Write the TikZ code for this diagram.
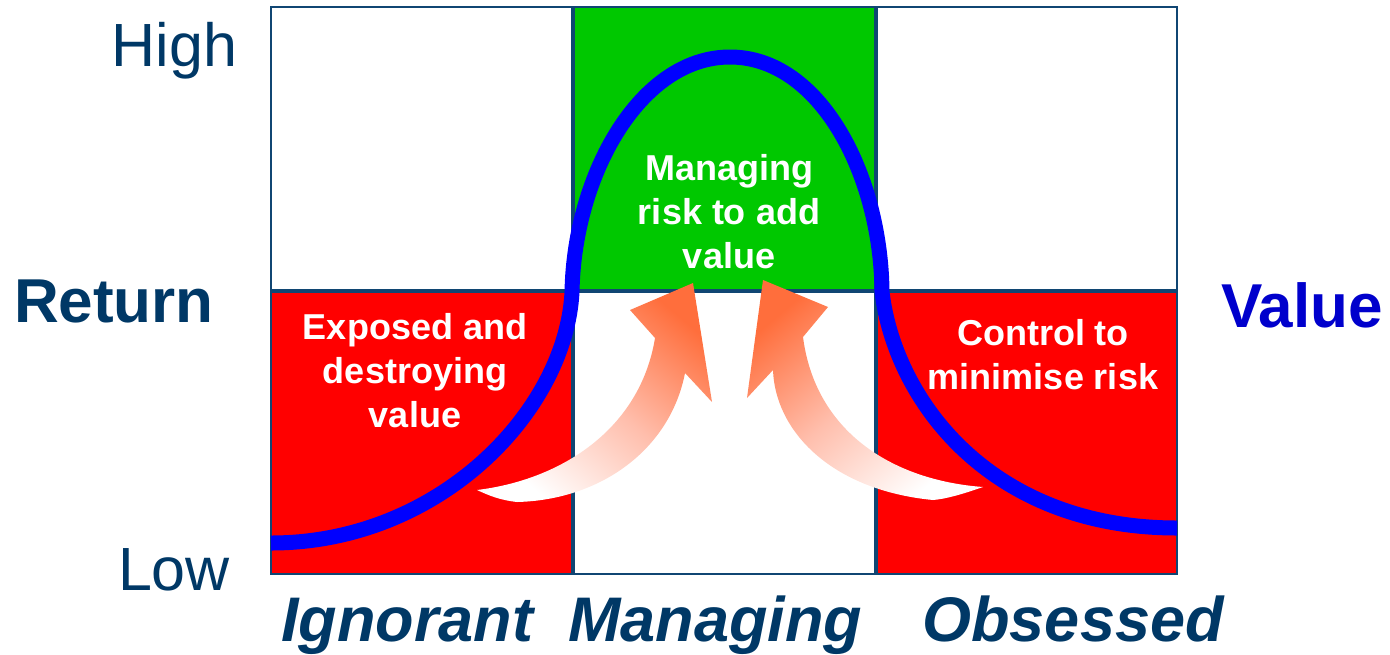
\documentclass[tikz,border=0pt]{standalone}
\usepackage{fontspec}
\setmainfont{Liberation Sans}
\definecolor{navyline}{RGB}{16,70,115}
\definecolor{navytext}{RGB}{0,56,102}
\definecolor{cellred}{RGB}{255,0,0}
\definecolor{cellgreen}{RGB}{0,200,0}
\definecolor{curveblue}{RGB}{0,0,255}
\definecolor{valueblue}{RGB}{0,0,204}
\definecolor{arroworange}{RGB}{255,110,60}
\definecolor{arrowmid}{RGB}{255,190,172}
\begin{document}
\begin{tikzpicture}[x=0.5pt,y=-0.5pt,
  gridline/.style={draw=navyline,line width=1.6pt},
  borderline/.style={draw=navyline,line width=1.3pt},
  axislabel/.style={text=navytext,font=\fontsize{30.5}{36}\selectfont,anchor=base,inner sep=0pt},
  axistitle/.style={font=\bfseries\fontsize{31}{36}\selectfont,anchor=base,inner sep=0pt},
  colabel/.style={text=navytext,font=\bfseries\itshape\fontsize{31.5}{36}\selectfont,anchor=base,inner sep=0pt},
  celltext/.style={text=white,font=\bfseries\fontsize{18}{22}\selectfont,align=center,inner sep=0pt},
  curve/.style={draw=curveblue,line width=7.5pt},
  bigarrow/.style={top color=arroworange,bottom color=white,middle color=arrowmid}
]
\useasboundingbox (0,0) rectangle (1390,654);
% cells
\fill[cellgreen] (573,7) rectangle (876,291);
\fill[cellred] (271,291) rectangle (573,574);
\fill[cellred] (876,291) rectangle (1177,574);
% grid
\draw[gridline] (573,7) -- (573,574);
\draw[gridline] (876,7) -- (876,574);
\draw[gridline] (271,291) -- (1177,291);
\draw[borderline] (271,7) rectangle (1177,574);
% cell texts
\node[celltext] (exposed) at (415,371) {Exposed and\\destroying\\value};
\node[celltext] (managing) at (729,212) {Managing\\risk to add\\value};
\node[celltext] (control) at (1043,355) {Control to\\minimise risk};
% value curve
\coordinate (cstart) at (271,543);
\coordinate (cjoinL) at (572,292);
\coordinate (ctop) at (730,57);
\coordinate (cjoinR) at (882,292);
\coordinate (cend) at (1177,528);
\draw[curve] (cstart) .. controls (440,543) and (566,410) .. (cjoinL)
  .. controls (574,175) and (640,57) .. (ctop)
  .. controls (820,57) and (881,175) .. (cjoinR)
  .. controls (895,400) and (990,528) .. (cend);
% arrows
\shade[bigarrow,shading angle=-40]
  (477,490) .. controls (560,480) and (640,430) .. (655,338)
  -- (630,310) -- (693,283) -- (712,402) -- (685,373)
  .. controls (670,450) and (600,500) .. (517,502)
  .. controls (500,500) and (490,496) .. cycle;
\shade[bigarrow,shading angle=40]
  (763,280) -- (828,307) -- (803,337)
  .. controls (815,430) and (890,480) .. (983,487)
  .. controls (960,495) and (945,499) .. (933,500)
  .. controls (830,490) and (775,430) .. (773,370)
  -- (747,398) -- cycle;
% axis labels
\node[axislabel] (high) at (174.5,66) {High};
\node[axislabel] (low) at (174,590) {Low};
\node[axistitle,text=navytext] (return) at (114,322) {Return};
\node[axistitle,text=valueblue] (value) at (1302,327) {Value};
\node[colabel] (ignorant) at (407,641) {Ignorant};
\node[colabel] (managingcol) at (715,641) {Managing};
\node[colabel] (obsessed) at (1073,641) {Obsessed};
\end{tikzpicture}
\end{document}
